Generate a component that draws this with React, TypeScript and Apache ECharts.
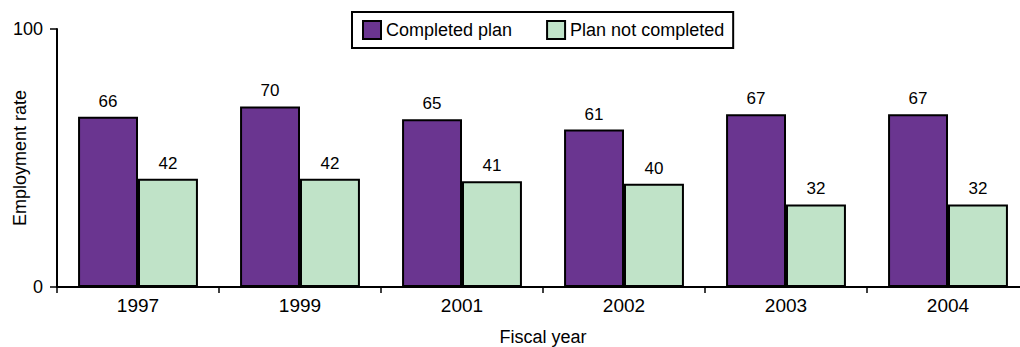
import React, { useEffect, useRef } from "react";
import * as echarts from "echarts";

const years = ["1997", "1999", "2001", "2002", "2003", "2004"];
const completed = [66, 70, 65, 61, 67, 67];
const notCompleted = [42, 42, 41, 40, 32, 32];
const seriesNames = ["Completed plan", "Plan not completed"];

export default function App() {
  const ref = useRef<HTMLDivElement>(null);
  useEffect(() => {
    const chart = echarts.init(ref.current!, null, { renderer: "svg" });
    const font = "Liberation Sans, Arial, sans-serif";
    chart.setOption({
      animation: false,
      textStyle: { fontFamily: font },
      legend: {
        top: 12,
        left: 352,
        data: seriesNames,
        itemWidth: 18,
        itemHeight: 18,
        itemGap: 34,
        padding: [8, 9, 8, 10],
        borderColor: "#000",
        borderWidth: 2,
        textStyle: { fontSize: 18, color: "#000", fontFamily: font },
        icon: "rect",
      },
      grid: { left: 57, right: -9, top: 29, bottom: 60, outerBoundsMode: "none" },
      xAxis: {
        type: "category",
        data: years,
        name: "Fiscal year",
        nameLocation: "middle",
        nameGap: 41,
        nameMoveOverlap: false,
        nameTextStyle: { fontSize: 18, color: "#000", fontFamily: font },
        axisLine: { lineStyle: { color: "#000", width: 2 } },
        axisTick: { show: true, length: 6, lineStyle: { color: "#000", width: 1.5 } },
        axisLabel: { fontSize: 19, color: "#000", margin: 9, fontFamily: font },
      },
      yAxis: {
        type: "value",
        min: 0,
        max: 100,
        interval: 100,
        name: "Employment rate",
        nameLocation: "middle",
        nameGap: 28,
        nameMoveOverlap: false,
        nameTextStyle: { fontSize: 18, color: "#000", fontFamily: font },
        splitLine: { show: false },
        axisLine: { show: true, lineStyle: { color: "#000", width: 2 } },
        axisTick: { show: true, length: 7, lineStyle: { color: "#000", width: 1.5 } },
        axisLabel: { fontSize: 18, color: "#000", margin: 14, fontFamily: font },
      },
      series: [
        {
          name: seriesNames[0],
          type: "bar",
          data: completed,
          barWidth: "37%",
          barGap: "0%",
          itemStyle: { color: "#6a3590", borderColor: "#000", borderWidth: 2 },
          label: { show: true, position: "top", distance: 7, fontSize: 17, color: "#000", fontFamily: font },
        },
        {
          name: seriesNames[1],
          type: "bar",
          data: notCompleted,
          barWidth: "37%",
          itemStyle: { color: "#c0e3c8", borderColor: "#000", borderWidth: 2 },
          label: { show: true, position: "top", distance: 7, fontSize: 17, color: "#000", fontFamily: font },
        },
      ],
    });
    return () => chart.dispose();
  }, []);
  return (
    <div
      ref={ref}
      style={{ position: "absolute", left: 0, top: 0, width: 1020, height: 347 }}
    />
  );
}
